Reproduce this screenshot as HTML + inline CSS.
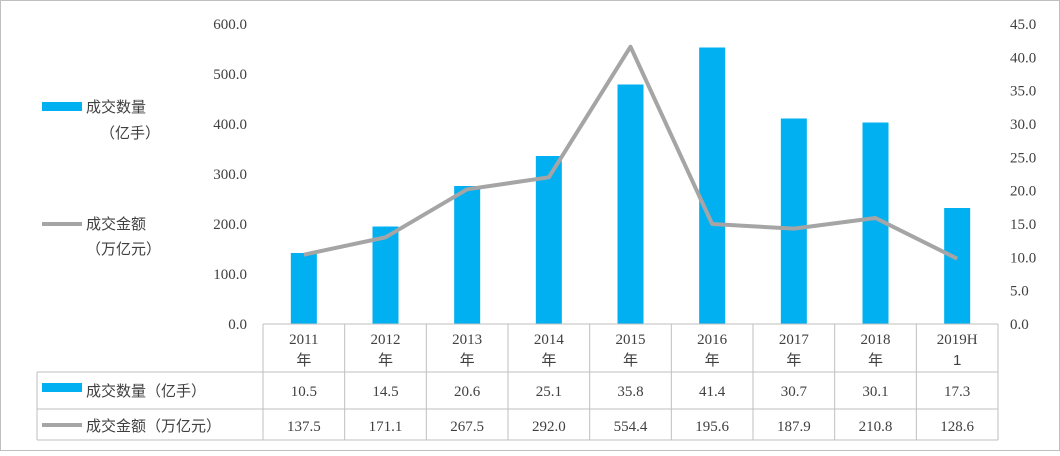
<!DOCTYPE html>
<html><head><meta charset="utf-8"><style>
body{margin:0;background:#fff;}
svg text{font-family:"Liberation Serif","Noto Serif CJK SC",serif;font-size:15px;fill:#404040;}
.cjk{font-family:"Liberation Sans","Noto Sans CJK SC",sans-serif;}
</style></head><body>
<svg id="c" width="1060" height="451" xmlns="http://www.w3.org/2000/svg"></svg>
<script>
const categories=["2011|年","2012|年","2013|年","2014|年","2015|年","2016|年","2017|年","2018|年","2019H|1"];
const barValues=[142,195,276,336,479,553,411,403,232];
const lineValues=[10.4,13.0,20.2,22.0,41.6,15.0,14.3,15.9,9.8];
const tableVolume=["10.5","14.5","20.6","25.1","35.8","41.4","30.7","30.1","17.3"];
const tableAmount=["137.5","171.1","267.5","292.0","554.4","195.6","187.9","210.8","128.6"];
const leftTicks=[0,100,200,300,400,500,600];
const rightTicks=[0,5,10,15,20,25,30,35,40,45];
const svg=document.getElementById('c');const NS="http://www.w3.org/2000/svg";
function add(tag,attrs,parent,name,txt){const e=document.createElementNS(NS,tag);for(const k in attrs)e.setAttribute(k,attrs[k]);


if(txt!==undefined)e.textContent=txt;(parent||svg).appendChild(e);return e;}
const X0=263,X1=998,Y0=324,Y1=24,n=categories.length,cw=(X1-X0)/n;
const yL=v=>Y0-(v/600)*(Y0-Y1), yR=v=>Y0-(v/45)*(Y0-Y1), xc=i=>X0+cw*(i+0.5);
add('rect',{x:0.5,y:0.5,width:1059,height:450,fill:'#fff',stroke:'#bfbfbf'},svg,'chart-border');
leftTicks.forEach(t=>add('text',{x:247,y:yL(t)+5,'text-anchor':'end'},svg,'left-tick-label',t.toFixed(1)));
rightTicks.forEach(t=>add('text',{x:1010,y:yR(t)+5},svg,'right-tick-label',t.toFixed(1)));
barValues.forEach((v,i)=>add('rect',{x:xc(i)-13,y:yL(v),width:26,height:Y0-yL(v),fill:'#00b0f0'},svg,'bar-'+i));
add('polyline',{points:lineValues.map((v,i)=>xc(i)+','+yR(v)).join(' '),fill:'none',stroke:'#a5a5a5','stroke-width':4,'stroke-linejoin':'round'},svg,'amount-line');
// table
const g=add('g',{stroke:'#bfbfbf','stroke-width':1},svg,'data-table');
add('line',{x1:X0,y1:Y0,x2:X1,y2:Y0},g,'grid');
add('line',{x1:37,y1:372,x2:X1,y2:372},g,'grid');
add('line',{x1:37,y1:409,x2:X1,y2:409},g,'grid');
add('line',{x1:37,y1:440,x2:X1,y2:440},g,'grid');
add('line',{x1:37,y1:372,x2:37,y2:440},g,'grid');
for(let i=0;i<=n;i++)add('line',{x1:X0+cw*i,y1:Y0,x2:X0+cw*i,y2:440},g,'grid');
categories.forEach((c,i)=>{const p=c.split('|');
add('text',{x:xc(i),y:344,'text-anchor':'middle'},svg,'category-label',p[0]);
add('text',{x:xc(i),y:365,'text-anchor':'middle',class:'cjk'},svg,'category-label',p[1]);
add('text',{x:xc(i),y:396,'text-anchor':'middle'},svg,'volume-value',tableVolume[i]);
add('text',{x:xc(i),y:431,'text-anchor':'middle'},svg,'amount-value',tableAmount[i]);});
add('rect',{x:42,y:383,width:40,height:9,fill:'#00b0f0'},svg,'table-legend-bar');
add('text',{x:86,y:396,class:'cjk'},svg,'table-legend-volume','成交数量（亿手）');
add('line',{x1:42,y1:425,x2:82,y2:425,stroke:'#a5a5a5','stroke-width':4},svg,'table-legend-line');
add('text',{x:86,y:431,class:'cjk'},svg,'table-legend-amount','成交金额（万亿元）');
// side legend
add('rect',{x:42,y:102,width:40,height:9,fill:'#00b0f0'},svg,'legend-bar');
add('text',{x:86,y:112,class:'cjk'},svg,'legend-volume','成交数量');
add('text',{x:100,y:138,class:'cjk'},svg,'legend-volume-unit','（亿手）');
add('line',{x1:42,y1:224,x2:82,y2:224,stroke:'#a5a5a5','stroke-width':4},svg,'legend-line');
add('text',{x:86,y:229,class:'cjk'},svg,'legend-amount','成交金额');
add('text',{x:86,y:254,class:'cjk'},svg,'legend-amount-unit','（万亿元）');
</script>
</body></html>
